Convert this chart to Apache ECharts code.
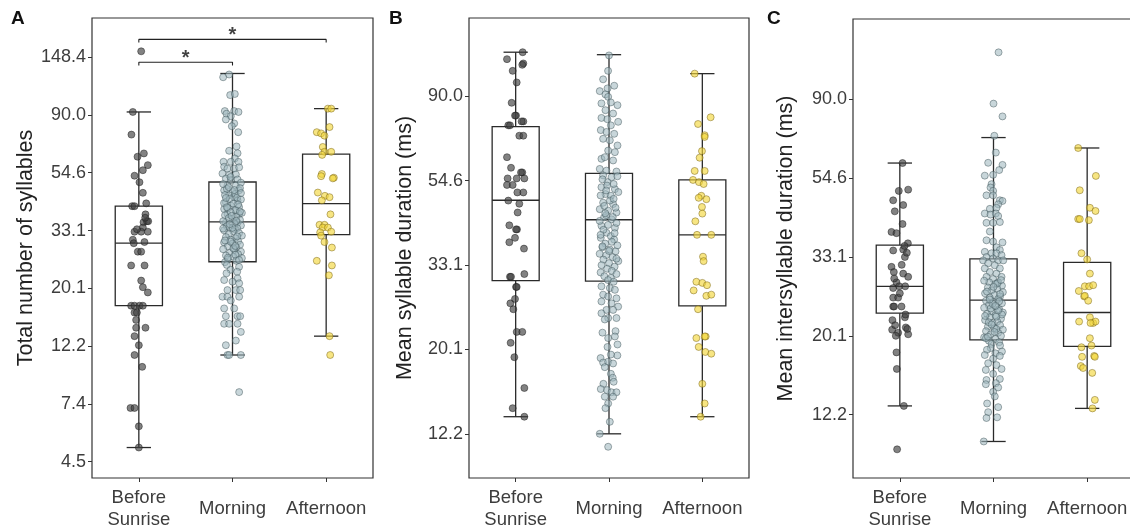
<!DOCTYPE html>
<html><head><meta charset="utf-8">
<script src="https://cdn.jsdelivr.net/npm/echarts@6/dist/echarts.min.js"></script>
<style>html,body{margin:0;padding:0;background:#fff}#c{width:1130px;height:529px}</style>
</head><body><div id="c"></div>
<script>
// ---------- DATA ----------
const categories = ['Before\nSunrise', 'Morning', 'Afternoon'];
const panelLetters = ['A', 'B', 'C'];
const axisTitles = ['Total number of syllables', 'Mean syllable duration (ms)', 'Mean intersyllable duration (ms)'];
const ticksA = ['4.5', '7.4', '12.2', '20.1', '33.1', '54.6', '90.0', '148.4'];
const ticksB = ['12.2', '20.1', '33.1', '54.6', '90.0'];
const ticksC = ['12.2', '20.1', '33.1', '54.6', '90.0'];
// box stats: [min whisker, Q1, median, Q3, max whisker]
const boxA = [[5.08, 17.3, 29.7, 40.9, 92.3], [11.3, 25.3, 35.7, 50.4, 128.7], [13.3, 32.0, 41.8, 64.1, 95.0]];
const boxB = [[13.5, 30.2, 48.6, 75.1, 116.7], [12.2, 30.1, 43.3, 57.0, 115.0], [13.5, 26.0, 39.6, 54.8, 102.8]];
const boxC = [[12.9, 23.2, 27.5, 35.7, 60.0], [10.3, 19.6, 25.2, 32.7, 70.5], [12.7, 18.8, 23.3, 32.0, 66.0]];
// significance brackets (panel A): [from cat, to cat, level, label]
const sigFrom = [0, 0];
const sigTo = [1, 2];
const sigLevel = [141.8, 172.8];
const sigLabel = ['*', '*'];
// points: [jitter offset within category, value]
const ptsA0 = [[0.025,155.9],[-0.064,92.3],[-0.079,75.9],[-0.014,62.7],[0.054,64.5],[0.096,58.3],[0.043,55.8],[-0.046,53.2],[0.007,50.3],[0.043,45.9],[0.079,41.9],[-0.071,40.9],[-0.046,40.9],[0.071,38.1],[0.05,35.6],[0.086,35.9],[0.1,35.9],[0.043,34.0],[-0.046,32.8],[0.025,32.8],[0.096,32.8],[-0.064,30.6],[-0.054,29.7],[-0.011,27.6],[0.025,27.6],[-0.082,24.5],[0.061,24.5],[0.025,21.5],[0.043,20.3],[0.096,19.4],[-0.082,17.3],[-0.046,17.3],[0.007,17.3],[0.043,17.3],[-0.046,16.3],[-0.021,16.3],[-0.029,15.3],[-0.029,14.3],[0.071,14.3],[-0.046,13.3],[0,12.3],[-0.046,11.3],[0.036,10.2],[-0.089,7.15],[-0.046,7.15],[0,6.1],[0,5.08],[0.068,37.0],[-0.02,33.5],[0.06,30.0]];
const ptsA1 = [[-0.1,124.6],[-0.036,127.6],[-0.025,106.8],[0.025,107.8],[-0.082,93.0],[-0.064,90.9],[0.018,93.0],[0.064,92.3],[-0.018,89.0],[-0.071,86.5],[0.018,83.6],[-0.007,81.6],[0.061,77.5],
[0.043,68.5],[-0.036,66.0],[0.054,64.6],[0.025,61.8],[-0.096,60.0],[-0.018,60.0],[0.064,60.0],[-0.089,57.5],[-0.054,56.6],[0.018,56.6],[0.071,57.2],[-0.107,54.2],[-0.036,53.5],[0.036,53.8],[-0.071,51.9],[-0.018,51.2],[0.054,51.5],[-0.054,48.9],[0.036,48.9],[-0.089,46.9],[0,46.2],[0.071,46.9],[-0.036,44.9],[0.018,44.2],[-0.071,42.3],[0.054,42.9],[-0.018,41.1],[-0.089,39.9],[0.036,39.3],[-0.054,38.2],[0.071,38.2],[0,36.6],[-0.071,35.5],[0.054,35.5],[-0.036,34.0],[0.025,33.5],
[-0.1,49.5],[0.09,50.1],[-0.06,47.5],[0.08,47.8],[0.03,45.5],[-0.08,45.0],[0.05,44.0],[-0.03,43.5],[0.09,43.3],[-0.09,42.0],[0.01,41.8],[0.07,40.6],[-0.05,40.2],[0.03,39.6],[-0.02,38.8],[0.1,38.6],[-0.08,37.8],[0.04,37.3],[-0.04,36.9],[0.08,36.3],[-0.1,35.9],[0.02,35.2],[0.09,34.6],[-0.06,34.4],[0.05,33.8],[-0.09,33.2],[0.01,32.9],[0.07,32.4],[-0.04,32.1],[0.1,31.7],[-0.07,31.3],[0.03,31.0],[-0.02,30.6],[0.06,30.2],[-0.09,29.9],[0.0,29.6],[0.08,29.3],[-0.05,28.9],[0.04,28.6],[-0.1,28.2],[0.02,28.0],[0.09,27.6],[-0.03,27.3],[0.06,27.0],[-0.07,26.7],[0.01,26.4],[0.1,26.1],[-0.05,25.8],[0.04,25.5],[-0.08,25.2],
[-0.04,48.2],[0.06,41.5],[-0.01,37.6],[0.0,33.9],[-0.02,30.1],[0.03,26.9],[-0.06,24.6],[0.07,24.2],[-0.02,23.6],[0.05,23.2],
[0.02,47.0],[-0.07,43.9],[0.08,39.0],[-0.03,35.0],[0.05,31.5],[-0.08,30.4],[0.01,28.4],[-0.05,26.2],[0.07,25.7],[-0.1,33.7],[0.04,36.0],[-0.06,40.5],[0.09,45.8],[-0.02,52.6],[0.03,29.0],
[-0.064,22.9],[0.054,21.9],[-0.089,21.6],[0,21.3],[0.071,21.0],[-0.054,19.8],[0.036,19.8],[0.082,19.8],[-0.107,18.7],[-0.054,18.7],[0.071,18.7],[-0.018,18.1],[-0.089,16.9],[0.018,16.9],[-0.071,15.8],[0.054,15.8],[0.082,15.8],[-0.089,14.8],[-0.036,14.8],[0.054,14.8],[0.089,13.8],[0.036,12.8],[-0.071,12.3],[-0.054,11.3],[-0.036,11.3],[0.089,11.3],[0.071,8.2]];
const ptsA2 = [[0.018,95.0],[0.054,95.0],[0.036,81.0],[-0.1,77.5],[-0.054,76.7],[-0.018,75.2],[-0.036,68.2],[0.054,65.4],[-0.018,65.4],[-0.043,63.7],[-0.046,54.0],[-0.054,53.0],[0.082,52.3],[0.071,52.0],[-0.089,46.0],[-0.014,44.7],[0.036,44.2],[-0.046,43.0],[0.046,38.1],[-0.071,34.8],[-0.018,34.8],[-0.036,34.0],[0.018,34.0],[0.054,32.8],[-0.064,32.6],[-0.054,31.7],[-0.018,30.0],[0.061,28.6],[-0.1,25.5],[0.061,24.5],[0.029,22.5],[0.036,13.3],[0.043,11.3]];
const ptsB0 = [[0.075,116.7],[-0.093,112.0],[0.082,109.2],[0.071,108.3],[-0.032,104.5],[0.011,97.6],[-0.043,86.5],[0.004,80.2],[-0.007,80.2],[-0.079,75.7],[-0.061,75.7],[0.082,77.5],[0.064,77.5],[0.039,71.2],[0.082,71.2],[-0.093,62.7],[-0.05,58.9],[0.071,57.3],[0.057,57.3],[-0.086,55.3],[0.011,55.3],[0.093,55.3],[-0.093,53.2],[-0.032,53.2],[0.018,50.9],[0.082,50.9],[-0.079,48.5],[0.039,47.6],[0.021,45.2],[-0.068,41.9],[0.014,40.9],[0.004,40.9],[-0.068,37.9],[-0.007,38.9],[0.089,36.5],[0.093,31.4],[-0.061,30.9],[-0.05,30.9],[0.004,29.1],[0.011,29.1],[-0.057,26.4],[-0.007,27.1],[-0.025,25.5],[0.011,22.3],[0.071,22.3],[-0.054,20.9],[-0.014,19.2],[0.093,16.0],[-0.032,14.2],[0.093,13.5]];
const ptsB1 = [[0.0,114.5],[-0.01,104.5],[-0.063,99.4],[0.056,95.7],[-0.016,94.2],[-0.099,92.7],[-0.038,90.9],[-0.009,89.6],[-0.081,86.2],[0.019,86.7],[0.091,85.3],[-0.038,82.8],[0.044,81.2],[-0.081,79.1],[-0.017,78.5],[0.098,77.3],[0.02,75.7],
[-0.088,73.6],[-0.027,72.8],[0.056,72.0],[-0.063,69.9],[0.009,69.3],[0.091,67.2],[-0.009,65.2],[0.063,64.6],[-0.081,62.1],[-0.045,62.7],[0.044,61.5],[-0.099,58.5],[-0.027,57.9],[0.08,57.6],[-0.063,56.3],[0.027,55.7],[-0.017,54.1],[-0.081,52.5],[0.063,51.9],[-0.038,50.4],[0.02,49.9],[-0.063,47.9],[0.044,47.5],[-0.099,46.1],[-0.009,45.7],[0.08,45.2],[-0.053,43.9],[0.027,43.4],[-0.081,41.8],[0.063,41.3],[-0.027,40.1],[0.02,39.3],[-0.088,38.9],[0.055,38.5],
[0.09,56.0],[-0.07,55.0],[0.05,53.5],[-0.02,53.0],[0.1,51.0],[-0.09,50.0],[0.01,48.5],[-0.05,47.0],[0.07,46.5],[-0.03,44.5],[0.04,44.0],[-0.1,43.0],[0.08,42.5],[-0.01,42.0],[-0.06,40.8],[0.06,40.0],[-0.09,39.6],[0.03,38.0],[-0.04,37.6],[0.09,37.2],[-0.07,36.8],[0.01,36.3],[0.07,35.9],[-0.1,35.4],[-0.03,35.1],[0.04,34.7],[-0.06,34.2],[0.1,33.9],[0.0,33.5],[-0.08,33.1],[0.06,32.8],[-0.02,32.4],[0.03,32.0],[-0.09,31.7],[0.08,31.4],[-0.05,31.0],[0.02,30.7],[-0.01,30.3],[0.05,30.0],[-0.07,37.0],[0.08,34.4],[-0.04,45.0],[0.05,49.0],[-0.03,51.5],[0.0,36.0],
[-0.081,29.2],[0.009,28.9],[0.063,28.6],[-0.063,27.8],[-0.009,27.5],[0.08,27.2],[-0.081,26.7],[0.027,26.4],[0.098,25.9],[-0.027,25.4],[0.044,25.4],[-0.081,24.9],[-0.009,24.2],[0.08,24.2],[-0.045,24.0],
[0.07,22.4],[-0.07,22.2],[0.063,21.7],[-0.009,21.5],[0.091,20.7],[-0.016,20.4],[0.09,19.4],[-0.09,19.1],[0.02,19.5],[-0.063,18.6],[-0.009,18.7],[0.044,18.5],[-0.045,18.1],[0.02,17.4],[0.04,17.0],[0.05,16.6],[-0.06,16.4],
[-0.088,15.9],[-0.02,15.8],[0.027,15.6],[0.08,15.6],[-0.045,15.2],[0.044,15.2],[-0.009,14.6],[-0.038,14.2],[0.009,13.1],[-0.099,12.2],[-0.009,11.3]];
const ptsB2 = [[-0.082,102.8],[0.089,79.4],[-0.046,76.3],[0.025,71.4],[0.025,70.7],[-0.004,65.0],[-0.029,62.5],[-0.082,57.8],[0.025,57.8],[-0.1,54.8],[-0.036,54.1],[0.014,53.5],[-0.011,49.9],[-0.039,49.3],[0.043,48.9],[-0.004,46.7],[0.0,44.9],[-0.075,42.9],[-0.057,39.6],[0.096,39.6],[0.007,34.8],[0.014,33.9],[-0.064,30.0],[0.0,29.8],[0.05,29.4],[-0.093,28.5],[0.043,27.6],[0.096,27.8],[-0.046,25.5],[-0.064,21.5],[0.036,21.7],[0.025,21.7],[-0.039,20.4],[0.032,19.8],[0.096,19.6],[0.0,16.4],[0.025,14.6],[-0.018,13.5]];
const ptsC0 = [[0.029,60.0],[0.089,50.7],[-0.011,50.3],[-0.071,47.4],[0.036,46.0],[-0.054,44.2],[0.029,40.8],[-0.089,38.8],[-0.036,38.5],[0.086,36.1],[0.036,34.7],[0.054,33.1],[-0.071,34.5],[-0.089,31.1],[-0.064,30.1],[0.036,29.8],[0.089,29.2],[-0.036,28.2],[-0.071,27.2],[-0.007,27.5],[0.057,27.5],[-0.071,25.6],[-0.018,25.6],[-0.071,24.2],[-0.061,24.2],[0.018,24.2],[0.054,22.6],[-0.079,22.2],[0.064,21.2],[-0.082,20.9],[-0.018,20.5],[-0.043,20.1],[0.089,20.3],[-0.036,18.1],[-0.032,16.3],[0.043,12.9],[-0.029,9.8],[0.075,34.0],[0.05,35.5],[0.0,26.3],[0.06,23.0],[-0.05,21.5],[0.08,21.0],[-0.06,28.9],[0.02,31.5]];
const ptsC1 = [[0.054,120.9],[0.0,87.4],[0.096,80.6],[0.009,71.3],
[0.025,64.1],[-0.057,60.1],[0.096,59.3],[0.061,57.4],[-0.093,55.4],[-0.004,55.7],[-0.021,52.5],[-0.032,51.4],[-0.004,50.3],[-0.075,48.9],[-0.004,48.9],
[0.068,47.4],[0.096,47.2],[0.05,46.2],[-0.039,44.9],[0.032,45.2],[-0.093,43.6],[-0.032,43.3],[0.025,43.6],[0.05,42.9],[-0.075,41.1],[-0.004,41.1],[0.068,41.3],[-0.039,38.9],[-0.075,36.8],[-0.004,36.5],[0.096,36.3],[0.032,35.2],[0.068,34.6],
[-0.093,34.2],[-0.021,33.9],[0.032,33.9],[0.086,33.5],[-0.075,33.1],[-0.111,32.4],[-0.004,32.8],[0.05,32.4],[0.104,32.4],[-0.057,31.8],[0.014,31.4],[-0.093,30.8],[0.068,30.8],[-0.039,30.1],[0.032,29.8],[-0.075,29.2],[-0.004,28.8],[0.086,29.2],[-0.046,28.2],[0.05,28.2],
[-0.1,28.5],[0.02,27.9],[0.09,27.6],[-0.06,27.3],[0.04,27.1],[-0.02,26.8],[0.1,26.5],[-0.09,26.3],[0.01,26.0],[0.07,25.8],[-0.04,25.6],[0.05,25.4],[-0.08,25.1],[0.0,24.9],[0.09,24.7],[-0.05,24.4],[0.03,24.2],[-0.1,24.0],[0.06,23.8],[-0.02,23.5],[0.1,23.3],[-0.07,23.1],[0.02,22.9],[-0.04,22.6],[0.08,22.4],[-0.09,22.2],[0.04,22.0],[-0.01,21.8],[0.07,21.5],[-0.06,21.3],[0.01,21.1],[0.1,20.9],[-0.08,20.7],[0.05,20.5],[-0.03,20.3],[0.08,20.1],[-0.1,19.9],[0.02,19.7],[-0.05,19.5],[0.06,19.3],[-0.02,19.1],
[0.04,28.0],[-0.07,26.6],[0.06,25.0],[-0.03,23.9],[0.09,23.0],[-0.05,21.9],[0.03,21.0],[-0.08,19.8],[0.0,27.4],[-0.01,24.6],[0.03,22.7],[-0.06,20.0],[0.07,26.2],[-0.04,25.3],[0.05,23.6],[-0.09,22.8],[0.01,20.6],[0.08,28.6],[-0.02,21.6],[0.02,24.3],
[0.07,18.9],[-0.03,18.6],[0.09,18.2],[-0.07,18.4],[0.02,18.0],
[-0.093,17.8],[0.068,17.7],[-0.004,17.4],[-0.057,16.9],[0.032,16.7],[0.086,16.3],[-0.082,16.2],[-0.004,15.8],[-0.075,15.2],[0.068,15.3],[0.025,14.9],[-0.082,14.8],[0.05,14.5],[-0.004,14.1],[0.014,13.7],[-0.068,13.1],[0.05,12.8],[-0.057,12.4],[0.039,12.0],[-0.075,11.95],[-0.104,10.3]];
const ptsC2 = [[-0.096,66.0],[0.093,55.3],[-0.079,50.5],[0.029,45.2],[0.089,44.3],[-0.096,42.1],[-0.079,42.1],[0.018,41.8],[-0.061,33.9],[0.0,32.6],[0.029,29.8],[-0.025,27.5],[0.021,27.5],[0.064,27.7],[-0.089,26.7],[-0.032,25.8],[-0.025,25.9],[0.011,25.1],[0.029,22.6],[-0.086,22.0],[0.064,21.8],[0.089,22.0],[0.036,21.8],[0.029,19.8],[-0.061,18.7],[0.046,18.9],[-0.054,17.6],[0.075,17.7],[0.082,17.6],[-0.068,16.6],[-0.043,16.4],[0.054,15.9],[0.082,13.4],[0.057,12.7]];

// ---------- LAYOUT / STYLE ----------
const L = Math.log;
const grids = [
  {left: 92, top: 18, width: 281, height: 460},
  {left: 469, top: 18, width: 280, height: 460},
  {left: 853, top: 19, width: 281, height: 459}
];
const yRanges = [[1.362, 5.337], [2.240, 4.962], [2.101, 5.006]];
const nameGaps = [53, 53, 56];
const catMargins = [9, 9, 9];
const tickSets = [ticksA, ticksB, ticksC];
const boxSets = [boxA, boxB, boxC];
const ptSets = [[ptsA0, ptsA1, ptsA2], [ptsB0, ptsB1, ptsB2], [ptsC0, ptsC1, ptsC2]];
const ptStyles = [
  {color: 'rgba(64,64,64,0.82)', borderColor: 'rgba(25,25,25,0.85)'},
  {color: 'rgba(160,184,190,0.72)', borderColor: 'rgba(55,75,80,0.8)'},
  {color: 'rgba(243,214,60,0.8)', borderColor: 'rgba(115,95,20,0.85)'}
];
const FONT = '"Liberation Sans", Arial, Helvetica, sans-serif';

const catData = categories.map((c, i) => i === 1 || i === 2 ? {value: c, textStyle: {lineHeight: 44}} : {value: c});

const xAxis = [], yAxis = [], series = [];
grids.forEach((g, i) => {
  xAxis.push({type: 'category', gridIndex: i, data: catData,
    axisLine: {show: false, onZero: false}, splitLine: {show: false},
    axisTick: {show: true, alignWithLabel: true, length: 4, lineStyle: {color: '#333'}},
    axisLabel: {fontSize: 18.5, color: '#3d3d3d', fontFamily: FONT, margin: catMargins[i], lineHeight: 22, interval: 0, hideOverlap: false}});
  xAxis.push({type: 'value', gridIndex: i, min: -0.5, max: 2.5, show: false, axisLine: {onZero: false}});
  const tv = tickSets[i].map(s => L(parseFloat(s)));
  yAxis.push({type: 'value', gridIndex: i, min: yRanges[i][0], max: yRanges[i][1],
    axisLine: {show: false, onZero: false}, splitLine: {show: false},
    axisTick: {show: true, length: 4, customValues: tv, lineStyle: {color: '#333'}},
    axisLabel: {customValues: tv, formatter: v => Math.exp(v).toFixed(1), fontSize: 18, color: '#3d3d3d', fontFamily: FONT, margin: 6},
    name: axisTitles[i], nameLocation: 'middle', nameGap: nameGaps[i],
    nameTextStyle: {fontSize: 21.5, color: '#222', fontFamily: FONT}});
  // boxes
  series.push({type: 'custom', xAxisIndex: 2 * i, yAxisIndex: i, z: 2, silent: true,
    data: boxSets[i].map((b, k) => [k].concat(b.map(L))),
    renderItem: function (params, api) {
      const x = api.value(0);
      const lo = api.coord([x, api.value(1)]), q1 = api.coord([x, api.value(2)]),
        md = api.coord([x, api.value(3)]), q3 = api.coord([x, api.value(4)]), hi = api.coord([x, api.value(5)]);
      const band = api.size([1, 0])[0];
      const hw = band * 0.252, cw = band * 0.13, cx = lo[0];
      const st = {stroke: '#2a2a2a', lineWidth: 1.3, fill: null};
      const seg = (x1, y1, x2, y2) => ({type: 'line', shape: {x1, y1, x2, y2}, style: st});
      return {type: 'group', children: [
        seg(cx, hi[1], cx, q3[1]), seg(cx, q1[1], cx, lo[1]),
        seg(cx - cw, hi[1], cx + cw, hi[1]), seg(cx - cw, lo[1], cx + cw, lo[1]),
        {type: 'rect', shape: {x: cx - hw, y: q3[1], width: 2 * hw, height: q1[1] - q3[1]}, style: {stroke: '#2a2a2a', lineWidth: 1.3, fill: 'rgba(255,255,255,0)'}},
        seg(cx - hw, md[1], cx + hw, md[1])
      ]};
    }});
  // points
  ptSets[i].forEach((pts, k) => {
    series.push({type: 'scatter', xAxisIndex: 2 * i + 1, yAxisIndex: i, z: 3, silent: true,
      symbolSize: 7, itemStyle: {color: ptStyles[k].color, borderColor: ptStyles[k].borderColor, borderWidth: 0.7},
      data: pts.map(p => [k + p[0], L(p[1])])});
  });
});
// significance brackets in panel A
sigFrom.forEach((f, j) => {
  const t = sigTo[j], lv = L(sigLevel[j]), drop = L(sigLevel[j]) - 0.027;
  series.push({type: 'line', xAxisIndex: 1, yAxisIndex: 0, z: 4, silent: true, symbol: 'none',
    lineStyle: {color: '#222', width: 1.1}, animation: false,
    data: [[f, drop], [f, lv], [t, lv], [t, drop]]});
  series.push({type: 'scatter', xAxisIndex: 1, yAxisIndex: 0, z: 4, silent: true, symbolSize: 1,
    itemStyle: {color: 'rgba(0,0,0,0)'},
    label: {show: true, position: 'top', distance: -7, formatter: sigLabel[j], fontSize: 20, fontWeight: 'bold', color: '#111', fontFamily: FONT},
    data: [[(f + t) / 2, lv]]});
});

const chart = echarts.init(document.getElementById('c'), null, {renderer: 'canvas'});
chart.setOption({
  animation: false,
  backgroundColor: '#fff',
  textStyle: {fontFamily: FONT},
  grid: grids.map(g => Object.assign({show: true, borderColor: '#333', borderWidth: 1.2, backgroundColor: 'transparent', containLabel: false, outerBoundsMode: 'none'}, g)),
  xAxis, yAxis, series,
  graphic: [
    {type: 'text', left: 11, top: 9, style: {text: panelLetters[0], font: 'bold 19px ' + FONT, fill: '#111'}},
    {type: 'text', left: 389, top: 9, style: {text: panelLetters[1], font: 'bold 19px ' + FONT, fill: '#111'}},
    {type: 'text', left: 767, top: 9, style: {text: panelLetters[2], font: 'bold 19px ' + FONT, fill: '#111'}}
  ]
});
</script></body></html>
